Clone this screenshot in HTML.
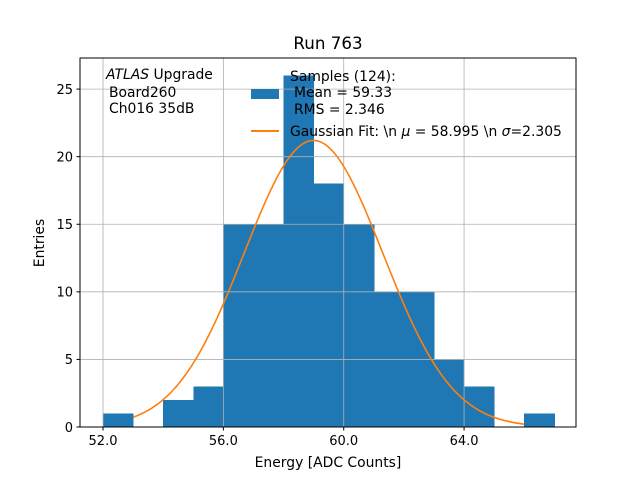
<!DOCTYPE html>
<html><head><meta charset="utf-8"><style>
body{margin:0;background:#fff;}
text{font-family:"DejaVu Sans","Liberation Sans",sans-serif;fill:#000;}
</style></head><body>
<svg id="chart" width="640" height="480" xmlns="http://www.w3.org/2000/svg">
<rect width="640" height="480" fill="#fff"/>
<g id="bars" shape-rendering="crispEdges"></g><g id="grid"></g><g id="curve"></g><g id="ticks"></g>
<rect x="80" y="58" width="496" height="369" fill="none" stroke="#000" stroke-width="1"/>
<text x="328" y="49" font-size="16.7" text-anchor="middle">Run 763</text>
<text x="328" y="467" font-size="13.9" text-anchor="middle">Energy [ADC Counts]</text>
<text transform="translate(44,243) rotate(-90)" font-size="13.9" text-anchor="middle">Entries</text>
<g font-size="13.9">
<text x="106" y="79"><tspan font-style="italic">ATLAS</tspan> Upgrade</text>
<text x="109" y="97">Board260</text>
<text x="109" y="113">Ch016 35dB</text>
</g>
<g font-size="13.9">
<rect x="251" y="89" width="28" height="10" fill="#1f77b4"/>
<text x="290" y="81">Samples (124):</text>
<text x="294" y="97">Mean = 59.33</text>
<text x="294" y="114">RMS = 2.346</text>
<line x1="251" y1="131" x2="279" y2="131" stroke="#ff7f0e" stroke-width="2"/>
<text x="290" y="136">Gaussian Fit: \n <tspan font-style="italic">μ</tspan> = 58.995 \n <tspan font-style="italic">σ</tspan>=2.305</text>
</g>
</svg>
<script>
const binEdges=[52,53,54,55,56,57,58,59,60,61,62,63,64,65,66,67];
const counts=[1,0,2,3,15,15,26,18,15,10,10,5,3,0,1];
const xTicks=[52,56,60,64];
const xTickLabels=["52.0","56.0","60.0","64.0"];
const yTicks=[0,5,10,15,20,25];
const fitMu=[58.995];
const fitSigma=[2.305];
const fitAmp=[21.2];
const fitRange=[53,66];
const NS="http://www.w3.org/2000/svg";
const L=80,R=576,T=58,B=427,xmin=51.235,xmax=67.72,ymin=0,ymax=27.3;
const X=v=>L+(v-xmin)/(xmax-xmin)*(R-L);
const Y=v=>B-(v-ymin)/(ymax-ymin)*(B-T);
function mk(tag,attrs,parent){const e=document.createElementNS(NS,tag);for(const k in attrs)e.setAttribute(k,attrs[k]);document.getElementById(parent).appendChild(e);return e;}
counts.forEach((c,i)=>{if(c<=0)return;
const r=mk('rect',{x:X(binEdges[i]),y:Y(c),width:X(binEdges[i+1])-X(binEdges[i])+0.5,height:Y(0)-Y(c),fill:'#1f77b4'},'bars');

});
xTicks.forEach((t,i)=>{
const g=mk('line',{x1:X(t),x2:X(t),y1:T,y2:B,stroke:'#b0b0b0','stroke-width':0.8},'grid');


const tk=mk('line',{x1:X(t),x2:X(t),y1:B,y2:B+3.5,stroke:'#000'},'ticks');


const tx=mk('text',{x:X(t),y:B+18,'font-size':13,'text-anchor':'middle'},'ticks');tx.textContent=xTickLabels[i];

});
yTicks.forEach(t=>{
const g=mk('line',{x1:L,x2:R,y1:Y(t),y2:Y(t),stroke:'#b0b0b0','stroke-width':0.8},'grid');


const tk=mk('line',{x1:L-3.5,x2:L,y1:Y(t),y2:Y(t),stroke:'#000'},'ticks');


const tx=mk('text',{x:L-7,y:Y(t)+4.8,'font-size':13,'text-anchor':'end'},'ticks');tx.textContent=t;

});
let d='';const n=200;
for(let i=0;i<=n;i++){const x=fitRange[0]+(fitRange[1]-fitRange[0])*i/n;const y=fitAmp[0]*Math.exp(-0.5*Math.pow((x-fitMu[0])/fitSigma[0],2));d+=(i?'L':'M')+X(x).toFixed(2)+','+Y(y).toFixed(2);}
const p=mk('path',{d:d,fill:'none',stroke:'#ff7f0e','stroke-width':1.6},'curve');


</script>
</body></html>
